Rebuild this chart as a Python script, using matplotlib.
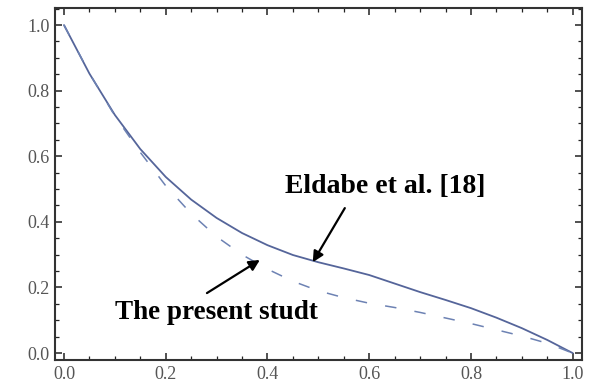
import numpy as np
import matplotlib
matplotlib.use("Agg")
import matplotlib.pyplot as plt
from matplotlib.ticker import MultipleLocator

# values
x_vals = [0.0, 0.05, 0.1, 0.15, 0.2, 0.25, 0.3, 0.35, 0.4, 0.45, 0.5,
          0.55, 0.6, 0.65, 0.7, 0.75, 0.8, 0.85, 0.9, 0.95, 1.0]
eldabe = [1.0, 0.852, 0.726, 0.622, 0.537, 0.468, 0.412, 0.366, 0.329, 0.299, 0.277,
          0.258, 0.238, 0.212, 0.186, 0.162, 0.137, 0.108, 0.076, 0.04, 0.0]
present = [1.0, 0.853, 0.723, 0.612, 0.51, 0.425, 0.355, 0.30, 0.256, 0.219, 0.19,
           0.169, 0.152, 0.139, 0.124, 0.107, 0.09, 0.071, 0.052, 0.03, 0.0]

tick_vals = [0.0, 0.2, 0.4, 0.6, 0.8, 1.0]
tick_labels = ["0.0", "0.2", "0.4", "0.6", "0.8", "1.0"]

SERIF = ["Liberation Serif", "DejaVu Serif"]


def main():
    fig = plt.figure(figsize=(5.9, 3.87), dpi=100)
    ax = fig.add_axes([0.0932, 0.0698, 0.8928, 0.9095])

    ax.plot(x_vals, eldabe, color="#55659a", lw=1.3, solid_capstyle="round")
    ax.plot(x_vals, present, color="#6d82b3", lw=1.1, ls=(0, (7.5, 12)))

    ax.set_xlim(-0.0177, 1.0177)
    ax.set_ylim(-0.021, 1.052)

    ax.set_xticks(tick_vals)
    ax.set_xticklabels(tick_labels)
    ax.set_yticks(tick_vals)
    ax.set_yticklabels(tick_labels)
    ax.xaxis.set_minor_locator(MultipleLocator(0.05))
    ax.yaxis.set_minor_locator(MultipleLocator(0.05))
    ax.tick_params(which="both", direction="in", top=True, right=True,
                   colors="#222222", labelcolor="#555555")
    ax.tick_params(which="major", length=5, width=1.1, labelsize=13, pad=4)
    ax.tick_params(which="minor", length=3, width=0.9)
    for lab in ax.get_xticklabels() + ax.get_yticklabels():
        lab.set_family(SERIF)
    for sp in ax.spines.values():
        sp.set_linewidth(1.5)
        sp.set_color("#333333")

    arrow = dict(arrowstyle="-|>", color="black", lw=1.6, mutation_scale=16,
                 shrinkA=0, shrinkB=0)
    ax.annotate("", xy=(0.489, 0.277), xytext=(0.552, 0.442), arrowprops=arrow)
    ax.annotate("", xy=(0.385, 0.284), xytext=(0.281, 0.183), arrowprops=arrow)

    ax.text(0.434, 0.509, "Eldabe et al. [18]", family=SERIF, fontweight="bold",
            fontsize=20, ha="left", va="center")
    ax.text(0.1, 0.125, "The present studt", family=SERIF, fontweight="bold",
            fontsize=19.5, ha="left", va="center")

    fig.savefig("out.png", dpi=100)
    plt.close(fig)


if __name__ == "__main__":
    main()
